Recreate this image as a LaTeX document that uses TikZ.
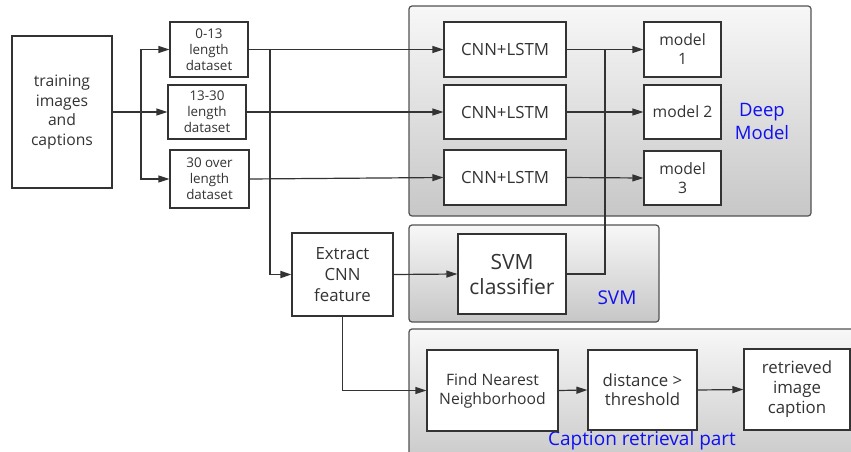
\documentclass[tikz,border=0pt]{standalone}
\usepackage{fontspec}
\setmainfont{Open Sans}
\usetikzlibrary{arrows.meta}
\definecolor{ink}{HTML}{333333}
\definecolor{lbl}{HTML}{1010F0}
\begin{document}
\begin{tikzpicture}[x=1pt,y=-1pt,
  box/.style={draw=ink,line width=1.2pt,fill=white,inner sep=0pt,align=center,text=ink,font=\fontsize{15.7}{19}\selectfont},
  grp/.style={draw=ink!85,line width=1.2pt,rounded corners=3pt,top color=white!97!black,bottom color=black!22},
  glabel/.style={text=lbl,align=center,font=\fontsize{19}{23}\selectfont,inner sep=0pt},
  conn/.style={draw=ink,line width=1.2pt},
  arr/.style={conn,-{Triangle[length=11pt,width=7pt]}}]
\useasboundingbox (0,0) rectangle (851,452);
\clip (0,0) rectangle (851,452);
% groups
\path[grp] (409,6) rectangle (811,216);
\path[grp] (409,225) rectangle (659,322);
\path[grp] (409,329) rectangle (870,470);
\node[glabel,font=\fontsize{18.5}{23}\selectfont] (ldeep) at (762,121) {Deep\\Model};
\node[glabel] (lsvm) at (617,298) {SVM};
\node[glabel] (lcap) at (642,441) {Caption retrieval part};
% nodes
\node[box,minimum width=100pt,minimum height=152pt,font=\fontsize{15.7}{19.5}\selectfont] (train) at (62,112) {training\\images\\and\\captions};
\node[box,minimum width=78pt,minimum height=55pt,font=\fontsize{13.4}{16}\selectfont] (d1) at (209,49.5) {0-13\\length\\dataset};
\node[box,minimum width=78pt,minimum height=54pt,font=\fontsize{13.4}{16}\selectfont] (d2) at (207,112) {13-30\\length\\dataset};
\node[box,minimum width=79pt,minimum height=58pt,font=\fontsize{13.4}{16}\selectfont] (d3) at (209.5,179) {30 over\\length\\dataset};
\node[box,minimum width=122pt,minimum height=55pt,font=\fontsize{16.8}{19}\selectfont] (c1) at (505,49.5) {CNN+LSTM};
\node[box,minimum width=122pt,minimum height=54pt,font=\fontsize{16.8}{19}\selectfont] (c2) at (505,112) {CNN+LSTM};
\node[box,minimum width=122pt,minimum height=55pt,font=\fontsize{16.8}{19}\selectfont] (c3) at (505,177.5) {CNN+LSTM};
\node[box,minimum width=77pt,minimum height=55pt] (m1) at (682.5,49.5) {model\\1};
\node[box,minimum width=77pt,minimum height=54pt] (m2) at (682.5,112) {model 2};
\node[box,minimum width=77pt,minimum height=54pt] (m3) at (682.5,178) {model\\3};
\node[box,minimum width=101pt,minimum height=83pt,font=\fontsize{16.8}{21}\selectfont] (ext) at (342.5,274.5) {Extract\\CNN\\feature};
\node[box,minimum width=108pt,minimum height=80pt,font=\fontsize{21}{25}\selectfont] (svm) at (512,274) {SVM\\classifier};
\node[box,minimum width=131pt,minimum height=81pt] (fnn) at (492.5,390.5) {Find Nearest\\Neighborhood};
\node[box,minimum width=109pt,minimum height=80pt,font=\fontsize{16.8}{19}\selectfont] (dist) at (642.5,390) {distance >\\threshold};
\node[box,minimum width=106pt,minimum height=81pt,font=\fontsize{16.8}{20}\selectfont] (ret) at (797,389.5) {retrieved\\image\\caption};
% connectors
\coordinate (sp) at (141,112);
\draw[conn] (train.east) -- (sp);
\draw[arr] (sp) |- (d1.west);
\draw[arr] (sp) -- (d2.west);
\draw[arr] (sp) |- (d3.west);
\draw[arr] (d1.east) -- (c1.west);
\draw[arr] (d2.east) -- (c2.west);
\draw[arr] (d3.east) -- (c3.west);
\coordinate (vx) at (270,49.5);
\draw[arr,line width=1.8pt] (vx) |- (ext.west);
\draw[arr] (c1.east) -- (m1.west);
\draw[arr] (c2.east) -- (m2.west);
\draw[arr] (c3.east) -- (m3.west);
\coordinate (vy) at (605,49.5);
\draw[conn,line width=1.5pt] (svm.east) -| (vy);
\draw[arr] (ext.east) -- (svm.west);
\draw[arr] (ext.south) |- (fnn.west);
\draw[arr] (fnn.east) -- (dist.west);
\draw[arr] (dist.east) -- (ret.west);
\end{tikzpicture}
\end{document}
